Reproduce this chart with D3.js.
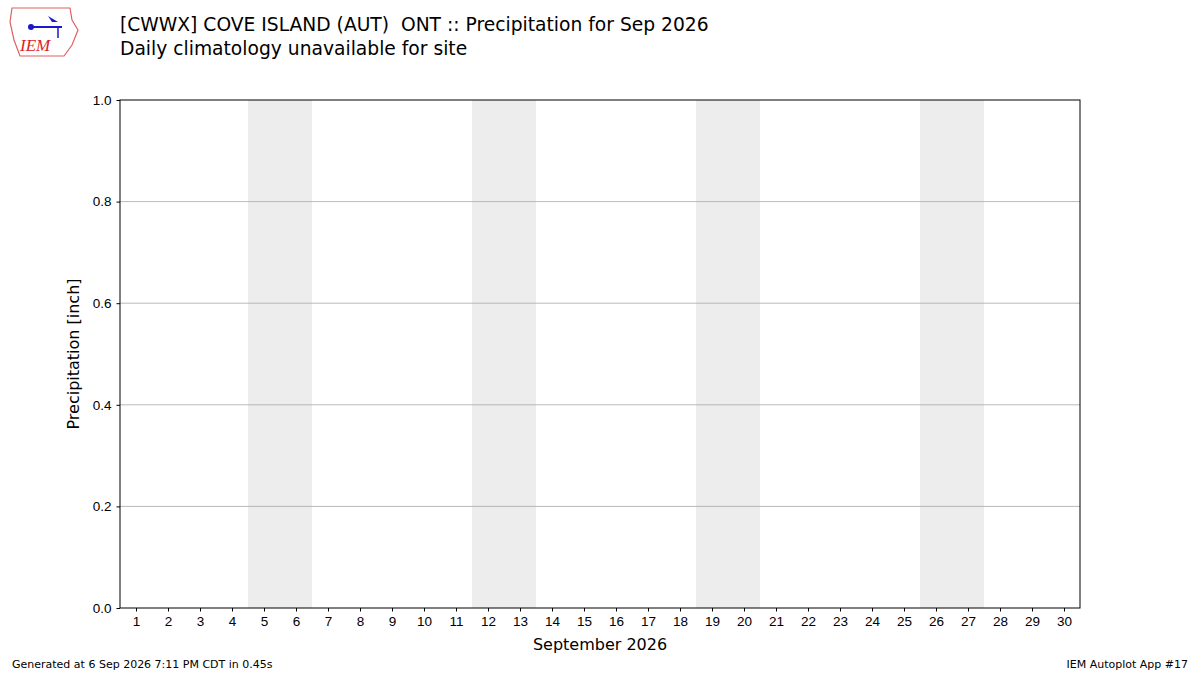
<!DOCTYPE html>
<html><head><meta charset="utf-8">
<script src="https://cdn.jsdelivr.net/npm/d3@7"></script>
<style>body{margin:0;background:#fff;font-family:"DejaVu Sans",sans-serif} text{white-space:pre}</style>
</head><body><svg id="c" width="1200" height="675"></svg>
<script>
var days = d3.range(1, 31);
var weekends = [[5, 6], [12, 13], [19, 20], [26, 27]];
var yTicks = [0, 0.2, 0.4, 0.6, 0.8, 1.0];
var precip = []; // no observations shown

var svg = d3.select("#c");
var x = d3.scaleLinear().domain([0.5, 30.5]).range([120, 1080]);
var y = d3.scaleLinear().domain([0, 1]).range([608, 100]);

svg.selectAll(".wk").data(weekends).enter().append("rect")
  .attr("x", d => x(d[0] - 0.5)).attr("width", d => x(d[1] + 0.5) - x(d[0] - 0.5))
  .attr("y", y(1)).attr("height", y(0) - y(1)).attr("fill", "#ededed");

svg.selectAll(".gr").data(yTicks.slice(1, -1)).enter().append("line")
  .attr("x1", 120).attr("x2", 1080).attr("y1", d => y(d)).attr("y2", d => y(d))
  .attr("stroke", "#a8a8a8").attr("stroke-width", 0.8);

svg.append("g").attr("transform", "translate(0,608)")
  .call(d3.axisBottom(x).tickValues(days).tickSize(3.5).tickPadding(5))
  .call(g => g.selectAll("text").attr("font-size", 13.5).attr("fill", "#000"));
svg.append("g").attr("transform", "translate(120,0)")
  .call(d3.axisLeft(y).tickValues(yTicks).tickFormat(d3.format(".1f")).tickSize(3.5).tickPadding(5))
  .call(g => g.selectAll("text").attr("font-size", 13.5).attr("fill", "#000"));
svg.selectAll(".domain").remove();
svg.append("rect").attr("x", 120).attr("y", 100).attr("width", 960).attr("height", 508)
  .attr("fill", "none").attr("stroke", "#000").attr("stroke-width", 1);

svg.append("text").attr("x", 600).attr("y", 650).attr("text-anchor", "middle")
  .attr("font-size", 16).text("September 2026");
svg.append("text").attr("transform", "translate(79,354) rotate(-90)").attr("text-anchor", "middle")
  .attr("font-size", 16).text("Precipitation [inch]");

svg.append("text").attr("x", 120).attr("y", 31).attr("font-size", 18.7)
  .text("[CWWX] COVE ISLAND (AUT)  ONT :: Precipitation for Sep 2026");
svg.append("text").attr("x", 120).attr("y", 55).attr("font-size", 18.7)
  .text("Daily climatology unavailable for site");
svg.append("text").attr("x", 12).attr("y", 668).attr("font-size", 11)
  .text("Generated at 6 Sep 2026 7:11 PM CDT in 0.45s");
svg.append("text").attr("x", 1188).attr("y", 668).attr("text-anchor", "end").attr("font-size", 11)
  .text("IEM Autoplot App #17");

// logo
var lg = svg.append("g");
lg.append("path").attr("d", "M12,8 L70,8 L72,20 L78,30 L72,45 L64,56 L20,56 L14,40 L10,22 Z")
  .attr("fill", "#fff").attr("stroke", "#e06060").attr("stroke-width", 1.2);
lg.append("line").attr("x1", 30).attr("x2", 62).attr("y1", 27).attr("y2", 27).attr("stroke", "#1a1acc").attr("stroke-width", 2);
lg.append("line").attr("x1", 58).attr("x2", 58).attr("y1", 27).attr("y2", 38).attr("stroke", "#1a1acc").attr("stroke-width", 1.5);
lg.append("circle").attr("cx", 31).attr("cy", 27).attr("r", 3).attr("fill", "#1a1acc");
lg.append("path").attr("d", "M48,16 L58,22 L52,22 Z").attr("fill", "#1a1acc");
lg.append("text").attr("x", 20).attr("y", 51).attr("font-size", 17).attr("font-style", "italic")
  .attr("font-family", "Liberation Serif").attr("fill", "#dd2222").text("IEM");
</script></body></html>
